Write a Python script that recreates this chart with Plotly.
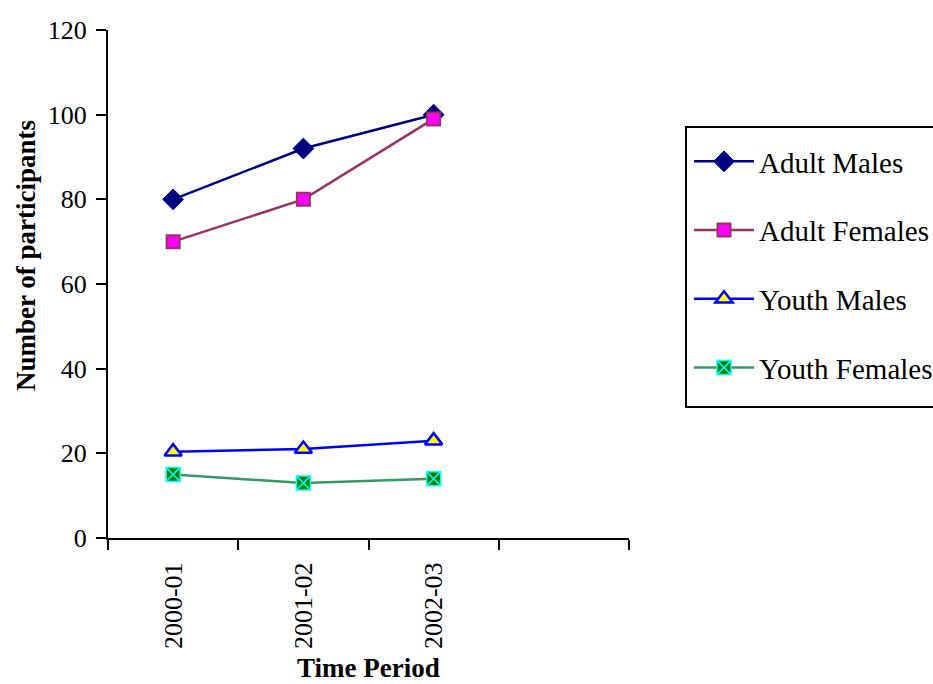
import plotly.graph_objects as go

categories = ["2000-01", "2001-02", "2002-03"]
adult_males = [80, 92, 100]
adult_females = [70, 80, 99]
youth_males = [20.4, 21, 23]
youth_females = [15, 13, 14]

FONT = "Liberation Serif, Times New Roman, serif"

series = [
    ("Adult Males", adult_males, "#000080", dict(symbol="diamond", size=16, color="#000080", line=dict(color="#000080", width=1))),
    ("Adult Females", adult_females, "#993366", dict(symbol="square", size=13, color="#FF00FF", line=dict(color="#993366", width=2))),
    ("Youth Males", youth_males, "#0000FF", dict(symbol="triangle-up", size=15, color="#FFFF00", line=dict(color="#0000FF", width=2.5))),
    ("Youth Females", youth_females, "#339966", dict(symbol="square-x", size=14, color="#008000", line=dict(color="#00FFFF", width=1.5))),
]

L, R, T, B = 108, 304, 30, 146
W, H = 933, 684
PW, PH = W - L - R, H - T - B

def px_x(x):
    return (x - L) / PW

def px_y(y):
    return (H - B - y) / PH

fig = go.Figure()
for i, (name, vals, col, mk) in enumerate(series):
    fig.add_trace(go.Scatter(
        x=categories, y=vals, name=name, mode="lines+markers",
        line=dict(color=col, width=2.5), marker=mk, legendgroup=str(i),
    ))

fig.add_shape(type="rect", xref="paper", yref="paper",
              x0=px_x(686), x1=px_x(945), y0=px_y(407), y1=px_y(127),
              line=dict(color="black", width=2), fillcolor="rgba(0,0,0,0)", layer="above")

fig.add_annotation(text="<b>Number of participants</b>", xref="paper", yref="paper",
                   x=px_x(26), y=px_y(256), xanchor="center", yanchor="middle",
                   textangle=-90, showarrow=False, font=dict(family=FONT, size=27, color="black"))
fig.add_annotation(text="<b>Time Period</b>", xref="paper", yref="paper",
                   x=px_x(368), y=px_y(685), xanchor="center", yanchor="bottom",
                   showarrow=False, font=dict(family=FONT, size=27, color="black"))

fig.update_layout(
    width=W, height=H,
    margin=dict(l=L, r=R, t=T, b=B, autoexpand=False),
    plot_bgcolor="white", paper_bgcolor="white",
    font=dict(family=FONT, size=26, color="black"),
    showlegend=True,
    legend=dict(
        x=px_x(689), y=px_y(136), xanchor="left", yanchor="top",
        borderwidth=0,
        font=dict(family=FONT, size=29, color="black"),
        itemwidth=60, tracegroupgap=28,
        bgcolor="rgba(0,0,0,0)",
    ),
    xaxis=dict(
        type="category",
        categoryorder="array",
        categoryarray=categories + [" "],
        range=[-0.5, 3.5],
        tickson="boundaries",
        ticks="outside", ticklen=10, tickwidth=2, tickcolor="black",
        showline=True, linecolor="black", linewidth=2,
        showgrid=False, zeroline=False,
        tickangle=-90,
        ticklabelstandoff=12,
        tickfont=dict(family=FONT, size=26),
    ),
    yaxis=dict(
        range=[0, 120], dtick=20,
        ticks="outside", ticklen=10, tickwidth=2, tickcolor="black",
        showline=True, linecolor="black", linewidth=2,
        showgrid=False, zeroline=False,
        ticklabelstandoff=4,
        tickfont=dict(family=FONT, size=26),
    ),
)

fig.write_html("out.html")
